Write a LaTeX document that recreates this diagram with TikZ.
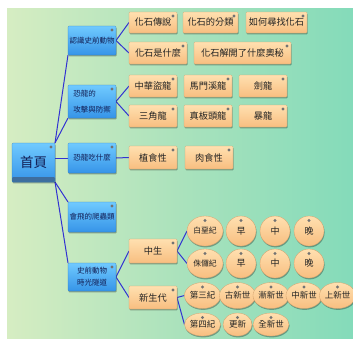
\documentclass[tikz,border=0pt]{standalone}
\usepackage{fontspec}
\setmainfont{Noto Sans CJK TC}
\usetikzlibrary{shadows,shapes.geometric}
\definecolor{bgL}{RGB}{214,237,194}
\definecolor{bgM}{RGB}{170,226,188}
\definecolor{bgR}{RGB}{132,219,186}
\definecolor{blueT}{RGB}{112,202,255}
\definecolor{blueB}{RGB}{54,148,232}
\definecolor{blueD}{RGB}{62,110,158}
\definecolor{orT}{RGB}{255,224,176}
\definecolor{orB}{RGB}{248,190,128}
\definecolor{linkc}{RGB}{50,50,210}
\definecolor{txt}{RGB}{35,35,35}
\definecolor{btxt}{RGB}{18,30,85}
\definecolor{dotc}{RGB}{115,115,115}
\pgfdeclarelayer{bg}
\pgfsetlayers{bg,main}
\tikzset{
 base/.style={inner sep=0pt, outer sep=0pt},
 shad/.style={drop shadow={shadow xshift=0.6pt, shadow yshift=-1.4pt, fill=black, opacity=0.3}},
 cornerdot/.style={path picture={\fill[dotc] ([xshift=-4pt,yshift=-4pt]path picture bounding box.north east) circle (1.7pt);}},
 bbox/.style={base, shad, cornerdot, rounded corners=1pt, top color=blueT, bottom color=blueB, draw=blueB!85!black, line width=0.3pt, text=btxt, font=\fontsize{7.5}{9}\selectfont, minimum width=48pt},
 home/.style={base, shad, rounded corners=1pt, top color=blueT, bottom color=blueB, draw=blueB!85!black, line width=0.3pt, text=btxt, font=\fontsize{13.5}{15}\selectfont, minimum width=43pt, minimum height=39pt,
   path picture={\fill[blueD] (path picture bounding box.south west) rectangle ([yshift=5pt]path picture bounding box.south east);
                 \fill[dotc] ([xshift=-4pt,yshift=-4pt]path picture bounding box.north east) circle (1.7pt);}},
 obox/.style={base, shad, cornerdot, rounded corners=1pt, top color=orT, bottom color=orB, draw=orB!85!black, line width=0.3pt, text=txt, font=\fontsize{9.2}{11}\selectfont, minimum width=48pt},
 ell/.style={base, ellipse, shad, top color=orT, bottom color=orB, draw=orB!85!black, line width=0.3pt, text=txt, font=\fontsize{8.5}{10}\selectfont,
   path picture={\fill[dotc] ([yshift=-4.5pt]path picture bounding box.north) circle (1.7pt);}},
 conn/.style={draw=linkc, line width=1pt}
}
\begin{document}
\begin{tikzpicture}[x=1pt,y=-1pt]
\useasboundingbox (0,0) rectangle (353,338);
% home
\node[home] (home) at (33.5,162.5) {首頁};
% level 1
\node[bbox, minimum height=29pt] (b1) at (92,40.5) {認識史前動物};
\node[bbox, minimum height=33pt, align=left, font=\fontsize{7.5}{16}\selectfont] (b2) at (92,101.5) {恐龍的\\攻擊與防禦};
\node[bbox, minimum height=30pt] (b3) at (92,158) {恐龍吃什麼};
\node[bbox, minimum height=30pt] (b4) at (92,217) {會飛的爬蟲類};
\node[bbox, minimum height=28pt, align=center, font=\fontsize{7.5}{12}\selectfont] (b5) at (92,277) {史前動物\\時光隧道};
% level 2
\node[obox, minimum height=21pt] (o11) at (153,22.5) {化石傳說};
\node[obox, minimum height=21pt, minimum width=55pt] (o12) at (210.5,22.5) {化石的分類};
\node[obox, minimum height=21pt, minimum width=61pt] (o13) at (276.5,22.5) {如何尋找化石};
\node[obox, minimum height=22pt, minimum width=58pt] (o21) at (158,53) {化石是什麼};
\node[obox, minimum height=22pt, minimum width=97pt] (o22) at (242.5,53) {化石解開了什麼奧秘};
\node[obox, minimum height=22pt] (o31) at (153,86) {中華盜龍};
\node[obox, minimum height=22pt] (o32) at (208,86) {馬門溪龍};
\node[obox, minimum height=22pt] (o33) at (263,86) {劍龍};
\node[obox, minimum height=22pt] (o41) at (153,116) {三角龍};
\node[obox, minimum height=22pt] (o42) at (208,116) {真板頭龍};
\node[obox, minimum height=22pt] (o43) at (263,116) {暴龍};
\node[obox, minimum height=23pt] (o51) at (153,157.5) {植食性};
\node[obox, minimum height=23pt] (o52) at (209,157.5) {肉食性};
\node[obox, minimum height=24pt] (o61) at (153,251) {中生};
\node[obox, minimum height=23pt] (o62) at (153,297.5) {新生代};
% level 3 ellipses
\node[ell, minimum width=36pt, minimum height=30pt, font=\fontsize{7.8}{9}\selectfont] (e11) at (205,231) {白堊紀};
\node[ell, minimum width=30pt, minimum height=30pt, font=\fontsize{9}{10}\selectfont] (e12) at (241,231) {早};
\node[ell, minimum width=30pt, minimum height=30pt, font=\fontsize{9}{10}\selectfont] (e13) at (275,231) {中};
\node[ell, minimum width=30pt, minimum height=30pt, font=\fontsize{9}{10}\selectfont] (e14) at (309,231) {晚};
\node[ell, minimum width=36pt, minimum height=29pt, font=\fontsize{7.8}{9}\selectfont] (e21) at (205,263.5) {侏儸紀};
\node[ell, minimum width=30pt, minimum height=29pt, font=\fontsize{9}{10}\selectfont] (e22) at (241,263.5) {早};
\node[ell, minimum width=30pt, minimum height=29pt, font=\fontsize{9}{10}\selectfont] (e23) at (275,263.5) {中};
\node[ell, minimum width=30pt, minimum height=29pt, font=\fontsize{9}{10}\selectfont] (e24) at (309,263.5) {晚};
\node[ell, minimum width=31pt, minimum height=26pt] (e31) at (202.5,295.5) {第三紀};
\node[ell, minimum width=31pt, minimum height=26pt] (e32) at (237.5,295.5) {古新世};
\node[ell, minimum width=32pt, minimum height=26pt] (e33) at (271,295.5) {漸新世};
\node[ell, minimum width=32pt, minimum height=26pt] (e34) at (304,295.5) {中新世};
\node[ell, minimum width=31pt, minimum height=26pt] (e35) at (337.5,295.5) {上新世};
\node[ell, minimum width=31pt, minimum height=23pt] (e41) at (202.5,324.5) {第四紀};
\node[ell, minimum width=29pt, minimum height=23pt] (e42) at (237.5,324.5) {更新};
\node[ell, minimum width=29pt, minimum height=23pt] (e43) at (271,324.5) {全新世};
\begin{pgfonlayer}{bg}
\fill[white] (0,0) rectangle (353,338);
\shade[left color=bgL, right color=bgR, middle color=bgM] (7,8) rectangle (353,338);
\draw[conn] (home.north east) -- (b1.south west);
\draw[conn] (home.north east) -- (b2.south west);
\draw[conn] (home.east |- b3.west) -- (b3.west);
\draw[conn] (home.south east) -- (b4.north west);
\draw[conn] (home.south east) -- (b5.north west);
\draw[conn] (b1.east) -- (o11.west);
\draw[conn] (b1.east) -- (o21.west);
\draw[conn] (b2.east) -- (o31.west);
\draw[conn] (b2.east) -- (o41.west);
\draw[conn] (b3.east) -- (o51.west);
\draw[conn] (b5.east) -- (o61.west);
\draw[conn] (b5.east) -- (o62.west);
\draw[conn] (o61.east) -- (e11.west);
\draw[conn] (o61.east) -- (e21.west);
\draw[conn] (o62.east) -- (e31.west);
\draw[conn] (o62.east) -- (e41.west);
\end{pgfonlayer}
\end{tikzpicture}
\end{document}
